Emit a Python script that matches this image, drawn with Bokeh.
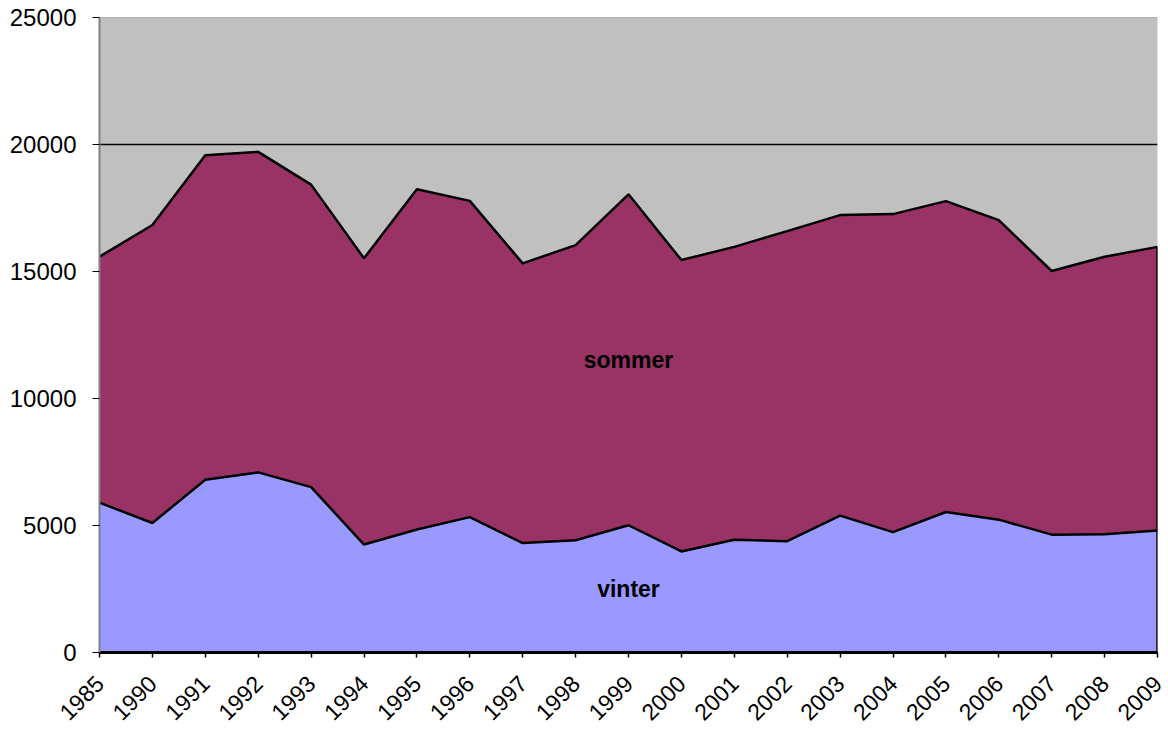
from bokeh.plotting import figure
from bokeh.models import Range1d, FixedTicker, Span
from bokeh.core.properties import value
from bokeh.embed import file_html
from bokeh.resources import INLINE

years = ["1985", "1990", "1991", "1992", "1993", "1994", "1995", "1996", "1997", "1998",
         "1999", "2000", "2001", "2002", "2003", "2004", "2005", "2006", "2007", "2008", "2009"]
vinter = [5900, 5100, 6800, 7090, 6510, 4250, 4840, 5330, 4310, 4420,
          5010, 3980, 4440, 4380, 5390, 4740, 5530, 5230, 4640, 4660, 4800]
sommer = [9680, 11730, 12780, 12620, 11910, 11270, 13400, 12450, 11010, 11620,
          13030, 11470, 11530, 12210, 11830, 12520, 12240, 11790, 10380, 10920, 11170]
y_ticks = [0, 5000, 10000, 15000, 20000, 25000]

FONT = "Liberation Sans"
idx = list(range(len(years)))
total = [v + s for v, s in zip(vinter, sommer)]

p = figure(width=1166, height=730, output_backend="svg", toolbar_location=None,
           x_range=Range1d(0, len(years) - 1), y_range=Range1d(0, 25000),
           min_border_left=99, min_border_right=9, min_border_top=17, min_border_bottom=77)
p.background_fill_color = "#C0C0C0"
p.border_fill_color = "white"
p.outline_line_color = None

p.varea(x=idx, y1=[0] * len(idx), y2=vinter, fill_color="#9999FF")
p.varea(x=idx, y1=vinter, y2=total, fill_color="#993366")
p.line(x=idx, y=vinter, line_color="black", line_width=2.5)
p.line(x=idx, y=total, line_color="black", line_width=2.5)
p.segment(x0=[idx[-1]], y0=[0], x1=[idx[-1]], y1=[total[-1]], line_color="black", line_width=2.5)

p.add_layout(Span(location=y_ticks[-1], dimension="width", line_color="#808080", line_width=1))

mid = len(idx) // 2
p.text(x=[idx[mid], idx[mid]], y=[vinter[mid] / 2, vinter[mid] + sommer[mid] / 2],
       text=["vinter", "sommer"], text_align="center", text_baseline="middle",
       text_font=value(FONT), text_font_style="bold", text_font_size="23px", text_color="black")

p.xgrid.visible = False
p.ygrid.ticker = FixedTicker(ticks=y_ticks[1:-1])
p.ygrid.grid_line_color = "black"
p.ygrid.grid_line_width = 1.5

p.yaxis.ticker = FixedTicker(ticks=y_ticks)
p.yaxis.axis_line_color = "#808080"
p.yaxis.axis_line_width = 2
p.yaxis.major_tick_line_color = "black"
p.yaxis.major_tick_out = 7
p.yaxis.major_tick_in = 0
p.yaxis.minor_tick_line_color = None
p.yaxis.major_label_text_font = FONT
p.yaxis.major_label_text_font_size = "24px"
p.yaxis.major_label_standoff = 16
p.yaxis.major_label_text_color = "black"

p.xaxis.ticker = FixedTicker(ticks=idx)
p.xaxis.major_label_overrides = {i: y for i, y in zip(idx, years)}
p.xaxis.major_label_orientation = 0.785398
p.xaxis.axis_line_color = "black"
p.xaxis.axis_line_width = 3
p.xaxis.major_tick_line_color = "black"
p.xaxis.major_tick_line_width = 1.5
p.xaxis.major_tick_out = 5
p.xaxis.major_tick_in = 0
p.xaxis.minor_tick_line_color = None
p.xaxis.major_label_text_font = FONT
p.xaxis.major_label_text_font_size = "23px"
p.xaxis.major_label_standoff = 22
p.xaxis.major_label_text_color = "black"

open("out.html", "w").write(file_html(p, INLINE))
